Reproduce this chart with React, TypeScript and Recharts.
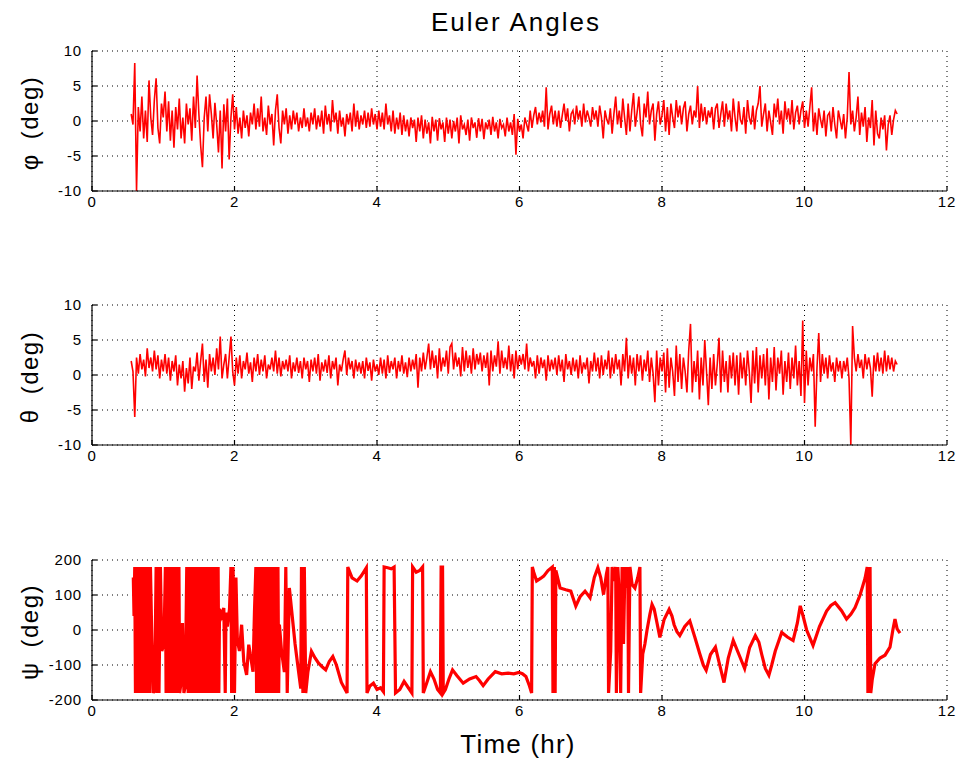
import React from 'react';
import { LineChart, Line, XAxis, YAxis, CartesianGrid } from 'recharts';

// ---- data ----
const X_TICKS = [0, 2, 4, 6, 8, 10, 12];
const ANG_TICKS = [-10, -5, 0, 5, 10];
const PSI_TICKS = [-200, -100, 0, 100, 200];

const T0 = 0.55; // hr, first sample of phi/theta
const DT = 0.025; // hr, sample spacing of phi/theta

// roll angle (deg), one row = 0.5 hr
const PHI = [
  1.0, -0.5, 8.3, -10, 2, -1.5, 3.5, -2.5, 1.5, -3, 5.8, 0.5, -2, 3, 6.1, -1, -3.2, 2.5, 0.5, 4.2,
  -1.5, 2.8, -2.8, 1.5, -3.8, 2.0, -1.2, 3.2, -2.5, 0.5, -3.2, 2.5, -0.5, 1.8, -2.8, 3.5, -1, 6.5, 1.0, -3.5,
  -6.6, 0.5, 3.5, -1.5, 3.8, 1.0, -2.5, 2.6, -0.5, -4.5, 1.5, -6.8, 2.4, -1.5, 3.2, -5.5, 0.5, 3.8, -1.2, 2.0,
  -1.8, 0.5, -2.5, 1.5, -1, 0.8, -2.2, 1.2, -0.5, 2.5, -1.2, 1.8, -0.8, 3.5, -1.5, 0.5, -2, 2.2, -0.5, 1.0,
  -3.5, 1.5, 3.8, -1, -3.2, 1.5, -0.5, 1.8, -1.8, 0.8, -1.2, 1.5, -0.5, 1.2, -1.5, 0.5, -1, 1.8, -0.8, 0.5,
  -1.5, 1.2, -0.5, 1.8, -1.2, 0.8, -0.8, 1.5, -1.8, 2.2, -0.5, 1.0, -1.5, 3.0, -0.2, 1.2, -1.8, 1.5, -0.8, 0.5,
  -2.2, 1.0, -0.5, 1.2, -1.5, 2.5, -0.8, 1.5, -1.2, 0.8, -0.5, 1.5, -1.0, 1.2, -0.8, 1.8, -0.5, 1.0, -1.2, 1.5,
  -0.8, 1.2, -1.2, 2.5, -0.5, 0.8, -1.5, 1.5, -1.8, 0.5, -1.2, 1.2, -2.0, 0.8, -1.5, 0.2, -2.2, 0.5, -1.0, 0.2,
  -3.0, 0.5, -1.5, 0.8, -2.5, 0.2, -1.8, -0.2, -3.2, 0.6, -1.5, 0.2, -2.8, 0.4, -1.2, -0.2, -3.0, 0.5, -1.8, 0.2,
  -2.5, 0.0, -1.5, 0.5, -3.2, 0.8, -1.2, -0.5, -2.0, 0.2, -2.8, 0.5, -1.0, -0.2, -2.4, 0.4, -1.5, 0.3, -2.6, -0.2,
  -1.2, 0.2, -2.0, 0.6, -1.5, -0.2, -2.5, 0.3, -1.0, -0.5, -2.2, 0.5, -1.5, -0.2, -2.0, 1.0, -4.8, 0.3, -1.5, -0.5,
  -2.5, 0.5, -0.5, -1.5, 1.5, -1.0, 0.8, 2.0, -0.5, 1.2, -0.2, 1.5, -0.8, 4.8, -1.2, 1.0, 2.2, -0.5, 1.5, -0.8,
  1.5, -1.0, 0.8, 2.5, 0.0, 1.8, -1.5, 1.0, 1.5, -0.5, 2.2, 0.2, 1.5, -0.8, 2.5, -0.2, 1.5, 0.5, -0.8, 2.0,
  0.2, 1.5, -0.8, 2.2, 0.5, -2.5, 1.5, 0.2, -0.5, 1.8, -1.8, 1.0, 3.5, -0.5, 1.5, -1.0, 3.2, 0.5, -2.0, 2.5,
  -1.5, 1.5, 4.0, -0.8, 1.2, 3.5, -0.5, -2.2, 2.5, 0.5, 4.2, -0.5, 1.5, 2.5, -2.8, 1.0, 2.8, -0.5, 0.8, 3.0,
  -1.5, 2.0, -2.0, 2.5, 0.5, -1.0, 3.0, 0.5, 2.2, -0.5, 1.8, 2.8, -1.5, 1.0, 2.2, -0.5, 1.5, 0.5, 5.0, -1.0,
  2.5, 0.0, 2.0, -0.5, 1.5, 0.5, 2.0, -1.2, 1.8, 2.5, -1.0, 1.0, 2.8, -0.8, 2.5, 0.2, 1.5, -1.5, 3.2, 0.5,
  -1.5, 2.8, 0.2, -0.5, 2.0, -1.8, 3.0, 0.5, -0.5, 2.2, -1.2, 1.5, 2.5, 5.0, -0.8, 1.0, 2.5, -1.5, 1.5, -0.2,
  -2.0, 2.5, 0.5, 3.2, -0.5, 1.5, -1.8, 2.8, 0.2, 1.8, -0.5, 3.0, -1.2, 1.2, 2.2, -0.5, 1.5, 2.8, -1.0, 1.5,
  -0.8, 2.0, 4.8, -1.5, 1.2, -2.0, 1.8, 0.2, -1.0, 1.5, -2.2, 0.8, 1.2, -1.5, 2.0, -0.5, -2.5, 1.5, 0.2, -1.2,
  1.0, -2.5, 0.5, 7.0, -0.5, 1.5, -1.5, 0.5, 3.5, -2.0, 1.2, -0.8, 2.0, -3.0, 0.5, -1.0, 3.0, -3.5, 1.5, -1.8,
  -2.5, 0.5, -1.2, 0.8, -4.2, -0.5, 0.8, -2.0, 0.2, 1.5, 1.0,
];

// pitch angle (deg), one row = 0.5 hr
const THETA = [
  2.0, 0.5, -6.0, 2.5, 0.2, 3.0, 0.8, 2.2, -0.2, 3.8, 1.0, 2.5, 0.5, 3.5, 0.8, 2.8, -0.5, 2.2, 0.5, 3.0,
  0.2, 2.5, -0.8, 2.0, 0.5, 2.8, -1.5, 1.5, -0.5, 2.0, -2.4, 1.0, -1.2, 2.5, -2.0, 1.2, 0.5, 3.2, -0.8, 2.0,
  4.5, -1.0, 2.2, -1.8, 3.0, 0.5, 2.5, 0.0, 3.8, 0.8, 5.5, -0.5, 1.5, 3.0, -0.5, 2.5, 5.5, 0.5, -1.5, 2.5,
  0.2, 2.8, -0.5, 2.0, 0.8, 3.2, 0.2, 1.8, -1.0, 2.5, 0.5, 3.0, 0.0, 2.2, 0.5, 2.8, -0.5, 1.5, 0.8, 2.5,
  0.5, 3.5, 0.2, 2.5, -0.2, 2.0, 0.8, 2.2, 0.5, 2.8, -0.5, 1.8, 0.5, 2.5, 0.3, 2.0, -0.5, 2.5, 0.8, 2.0,
  -1.0, 2.2, 0.5, 2.5, 0.2, 3.0, -0.8, 1.8, 0.5, 2.2, 0.3, 2.8, -0.5, 2.0, 0.8, 2.5, -1.5, 1.5, 0.5, 2.2,
  3.5, 0.0, 2.5, 0.8, 2.0, -0.5, 2.2, 0.5, 1.8, 0.2, 2.0, -0.5, 2.5, 0.6, 1.8, -0.8, 2.2, 0.5, 1.5, 0.0,
  2.5, 0.2, 2.2, -0.5, 2.8, 0.3, 2.0, 0.8, 2.5, -0.5, 2.0, 0.5, 2.8, 0.2, 1.8, -0.3, 2.5, 0.5, 2.2, 0.8,
  3.0, -1.8, 2.5, 0.5, 3.2, 0.8, 2.5, 4.5, 0.8, 3.5, 1.0, 2.8, -0.5, 3.8, 0.5, 2.5, 1.2, 3.5, 0.2, 4.0,
  4.5, 0.8, 3.2, 1.2, 2.5, -0.2, 4.0, 0.5, 3.5, 1.0, 2.8, 0.2, 3.8, 0.8, 3.0, 1.5, 3.2, 0.5, 2.8, 1.0,
  3.2, -1.5, 3.5, 0.5, 2.8, 1.2, 4.8, 0.2, 3.5, 1.0, 2.5, 0.8, 4.2, 0.5, 3.0, -0.5, 3.5, 0.8, 2.8, 1.5,
  3.0, 0.8, 4.5, 0.5, 2.5, 1.2, 2.0, -0.5, 2.8, 0.2, 2.5, 1.0, 2.2, -0.8, 2.8, 0.5, 2.2, 0.8, 2.5, 0.0,
  2.8, 0.5, 2.2, -1.0, 3.0, 0.8, 2.0, 0.0, 2.5, 0.5, 2.2, -0.5, 2.8, 0.2, 1.8, 0.8, 2.5, -1.2, 2.0, 0.5,
  3.2, 0.5, 2.5, -0.5, 2.8, 0.0, 2.2, 0.8, 3.5, -0.5, 2.5, 0.2, 3.0, 0.8, 2.2, -1.5, 3.0, 0.5, 5.3, -0.5,
  2.8, 0.2, 2.5, -1.5, 3.0, 0.5, 2.8, -0.8, 2.2, 0.5, 3.5, -1.0, 2.5, 0.2, -3.9, 3.5, -1.5, 2.5, 0.5, 3.2,
  -2.5, 3.8, -1.8, 2.5, 0.5, -3.0, 4.2, -1.0, 3.0, -2.0, 2.5, 0.5, -2.5, 3.5, 7.3, -2.5, 2.0, -1.0, 3.5, -3.5,
  2.5, -1.5, 5.0, 0.5, -4.3, 2.5, -2.0, 3.0, -1.5, 1.5, 5.3, -2.5, 3.5, -1.0, 2.0, -2.5, 2.8, -0.5, 3.2, -1.5,
  2.8, -2.8, 3.2, -0.5, 2.5, -1.5, 3.5, 0.5, -4.0, 3.5, -1.2, 4.0, -2.5, 2.8, -0.5, 3.0, -1.5, 3.8, -3.5, 2.5,
  -1.0, 4.0, -2.2, 2.5, 0.2, 3.5, -2.8, 2.0, -1.0, 3.2, -2.0, 2.5, -0.5, 4.2, -1.5, 2.0, -3.0, 7.8, -4.0, 3.5,
  -1.5, 2.5, 0.5, 3.0, -7.4, 1.0, 6.0, -1.0, 3.0, 0.2, 2.5, -0.5, 2.8, 0.5, 1.8, -1.0, 2.5, 0.5, 2.0, -0.5,
  2.0, 0.5, 2.5, -0.5, -10, 7.0, 2.5, 0.5, 3.0, 1.0, 2.2, -0.5, 3.0, 0.8, 2.5, 1.0, -3.1, 2.8, 0.5, 3.2,
  0.5, 2.5, 0.2, 3.5, 0.5, 2.8, 0.8, 2.5, 0.5, 2.0, 1.5,
];

// yaw angle: sample times (hr) and values (deg), wrapped to +/-180
const PSI_T = [
  0.58, 0.59, 0.60, 0.61, 0.63, 0.65, 0.67, 0.69, 0.71, 0.73, 0.75, 0.77, 0.79, 0.81, 0.82,
  0.84, 0.86, 0.88, 0.90, 0.91,
  0.92, 0.94, 0.96, 0.98, 1.01, 1.03, 1.04, 1.06, 1.08, 1.10, 1.12, 1.14, 1.16, 1.18, 1.20, 1.22, 1.23,
  1.25, 1.27, 1.29, 1.31, 1.33,
  1.35, 1.37, 1.39, 1.41, 1.43, 1.45, 1.47, 1.49, 1.51, 1.53, 1.55, 1.57, 1.59, 1.61, 1.63, 1.65,
  1.67, 1.69, 1.71, 1.73, 1.75, 1.77, 1.78, 1.79,
  1.82, 1.85, 1.87, 1.88, 1.90, 1.93, 1.95, 1.96, 1.98, 2.00, 2.02, 2.04, 2.07, 2.10, 2.13, 2.17,
  2.20, 2.23, 2.26, 2.28,
  2.30, 2.31, 2.33, 2.35, 2.37, 2.39, 2.41, 2.43, 2.45, 2.47, 2.49, 2.51, 2.53, 2.55, 2.57, 2.59,
  2.61, 2.62, 2.63, 2.66, 2.70, 2.72, 2.74, 2.77, 2.80, 2.85, 2.90, 2.93, 2.94, 2.96, 2.98, 3.00,
  3.03, 3.08, 3.13, 3.18, 3.23, 3.28, 3.33, 3.38, 3.43, 3.50, 3.58, 3.59, 3.65, 3.72, 3.78, 3.85,
  3.86, 3.90, 3.95, 4.00, 4.05, 4.09, 4.10, 4.15, 4.20, 4.24, 4.26, 4.32, 4.38, 4.44, 4.49, 4.50,
  4.55, 4.60, 4.64, 4.65, 4.70, 4.75, 4.80, 4.85, 4.89, 4.90, 4.92, 4.93, 4.96, 5.01, 5.06, 5.12,
  5.21, 5.30, 5.39, 5.44, 5.49, 5.56, 5.66, 5.75, 5.84, 5.92, 5.99, 6.04, 6.09, 6.14, 6.17, 6.18,
  6.20, 6.24, 6.30, 6.34, 6.40, 6.46, 6.47, 6.49, 6.50, 6.51, 6.57, 6.65, 6.72, 6.79, 6.85, 6.92,
  6.99, 7.05, 7.10, 7.14, 7.18, 7.22, 7.24, 7.25, 7.28, 7.30, 7.33, 7.35, 7.36, 7.38, 7.40, 7.42,
  7.44, 7.46, 7.48, 7.50, 7.52, 7.53, 7.55, 7.58, 7.62, 7.66, 7.69, 7.70, 7.73, 7.76, 7.79, 7.83,
  7.86, 7.89, 7.92, 7.97, 8.03, 8.10, 8.14, 8.17, 8.21, 8.25, 8.32, 8.39, 8.46, 8.53, 8.58, 8.62,
  8.68, 8.75, 8.81, 8.87, 8.93, 9.00, 9.08, 9.16, 9.23, 9.31, 9.36, 9.40, 9.45, 9.50, 9.54, 9.59,
  9.68, 9.76, 9.84, 9.90, 9.94, 9.98, 10.03, 10.12, 10.21, 10.31, 10.37, 10.43, 10.52, 10.59, 10.65, 10.71,
  10.78, 10.85, 10.88, 10.89, 10.90, 10.91, 10.92, 10.93, 10.95, 10.99, 11.06, 11.13, 11.20, 11.24, 11.27, 11.30,
  11.34,
];

const PSI_V = [
  150, 40, 180, -180, 180, -180, 180, -180, 180, -180, 180, -180, 180, -180, 180,
  -30, -180, -170, 180, -180,
  180, -180, 180, -60, -40, 180, -180, 180, -180, 180, -180, 180, -180, 180, -180, 180, -180,
  -150, 20, -180, -160, 180,
  -180, 180, -180, 180, -180, 180, -180, 180, -180, 180, -180, 180, -180, 180, -180, 180,
  -180, 180, -180, 180, -180, 180, -180, 60,
  40, 63, -180, 50, 10, 60, 180, -180, 180, -180, 150, -30, -60, 15, -90, -128,
  -42, -80, -119, 50,
  180, -180, 180, -180, 180, -180, 180, -180, 180, -180, 180, -180, 180, -180, 180, -180,
  180, -180, 15, -60, -120, 180, -180, 120, 60, -40, -120, -167, 180, -180, 180, -180,
  -120, -61, -80, -95, -105, -114, -90, -76, -100, -150, -180, 180, 149, 140, 155, 178,
  -180, -160, -152, -170, -165, -176, 180, 178, 175, 180, -180, -170, -147, -165, -180, 180,
  165, 170, 180, -180, -150, -119, -140, -170, -180, 180, 180, -180, -170, -140, -114, -130,
  -152, -140, -133, -145, -159, -140, -119, -125, -123, -125, -121, -125, -133, -160, -180, 180,
  165, 140, 148, 154, 170, 180, -180, 180, -180, 170, 120, 115, 111, 68, 95, 111,
  92, 150, 178, 150, 101, 160, 180, -180, -60, 180, 140, 180, -180, 180, 100, -180,
  180, -40, 180, 120, 180, -180, 180, 130, 120, 150, 180, -180, -68, -40, 0, 45,
  73, 60, 30, -21, 30, 59, 40, 15, -5, -16, 10, 26, -20, -68, -100, -115,
  -70, -49, -100, -150, -80, -30, -70, -110, -50, -16, -35, -70, -110, -129, -100, -60,
  -7, -20, -30, 20, 69, 40, 0, -44, 10, 54, 70, 78, 55, 31, 45, 64,
  100, 148, 180, -180, 180, -180, 180, -180, -143, -96, -80, -72, -49, 0, 31, 3,
  -9,
];

const phiRows = PHI.map((v, i) => ({ t: T0 + i * DT, v }));
const thetaRows = THETA.map((v, i) => ({ t: T0 + i * DT, v }));
const psiRows = PSI_T.map((t, i) => ({ t, v: PSI_V[i] }));

// ---- styling ----
const FONT = '"Liberation Sans", Arial, Helvetica, sans-serif';
const RED = '#ff0000';
const tickStyle = { fill: '#000', fontSize: 15, fontFamily: FONT, letterSpacing: 0.8 };

type PanelProps = {
  top: number;
  rows: { t: number; v: number }[];
  domain: [number, number];
  ticks: number[];
  strokeWidth: number;
};

function Panel({ top, rows, domain, ticks, strokeWidth }: PanelProps) {
  return (
    <div style={{ position: 'absolute', left: 0, top, width: 959, height: 180 }}>
      <LineChart
        width={959}
        height={180}
        data={rows}
        margin={{ top: 10, right: 12, bottom: 0, left: 32 }}
      >
        <CartesianGrid stroke="#000" strokeDasharray="1 4" strokeWidth={1} />
        <XAxis
          dataKey="t"
          type="number"
          domain={[0, 12]}
          ticks={X_TICKS}
          allowDataOverflow
          height={30}
          axisLine={{ stroke: '#000', strokeWidth: 1.2 }}
          tickLine={{ stroke: '#000', strokeWidth: 1.2 }}
          tickSize={-5}
          tickMargin={10}
          tick={tickStyle}
          interval={0}
        />
        <YAxis
          type="number"
          domain={domain}
          ticks={ticks}
          allowDataOverflow
          width={60}
          axisLine={{ stroke: '#000', strokeWidth: 1.2 }}
          tickLine={{ stroke: '#000', strokeWidth: 1.2 }}
          tickSize={-5}
          tickMargin={15}
          tick={tickStyle}
          interval={0}
        />
        <Line
          dataKey="v"
          type="linear"
          stroke={RED}
          strokeWidth={strokeWidth}
          dot={false}
          activeDot={false}
          isAnimationActive={false}
        />
      </LineChart>
    </div>
  );
}

function YLabel({ cy, symbol }: { cy: number; symbol: string }) {
  return (
    <text
      x={38}
      y={cy}
      transform={`rotate(-90, 38, ${cy})`}
      textAnchor="middle"
      fontFamily={FONT}
      fontSize={24}
      letterSpacing={1.5}
      fill="#000"
    >
      {symbol}
      <tspan dx={14}>(deg)</tspan>
    </text>
  );
}

export default function App() {
  return (
    <div
      style={{
        position: 'absolute',
        left: 0,
        top: 0,
        width: 959,
        height: 763,
        background: '#fff',
        overflow: 'hidden',
      }}
    >
      <Panel top={41} rows={phiRows} domain={[-10, 10]} ticks={ANG_TICKS} strokeWidth={1.6} />
      <Panel top={295} rows={thetaRows} domain={[-10, 10]} ticks={ANG_TICKS} strokeWidth={1.6} />
      <Panel top={550} rows={psiRows} domain={[-200, 200]} ticks={PSI_TICKS} strokeWidth={3.2} />
      <svg
        width={959}
        height={763}
        style={{ position: 'absolute', left: 0, top: 0, pointerEvents: 'none' }}
      >
        <text
          x={516}
          y={31}
          textAnchor="middle"
          fontFamily={FONT}
          fontSize={26}
          letterSpacing={2}
          fill="#000"
        >
          Euler Angles
        </text>
        <text
          x={518}
          y={753}
          textAnchor="middle"
          fontFamily={FONT}
          fontSize={26}
          letterSpacing={1.2}
          fill="#000"
        >
          Time (hr)
        </text>
        <YLabel cy={123} symbol="φ" />
        <YLabel cy={377} symbol="θ" />
        <YLabel cy={632} symbol="ψ" />
      </svg>
    </div>
  );
}
